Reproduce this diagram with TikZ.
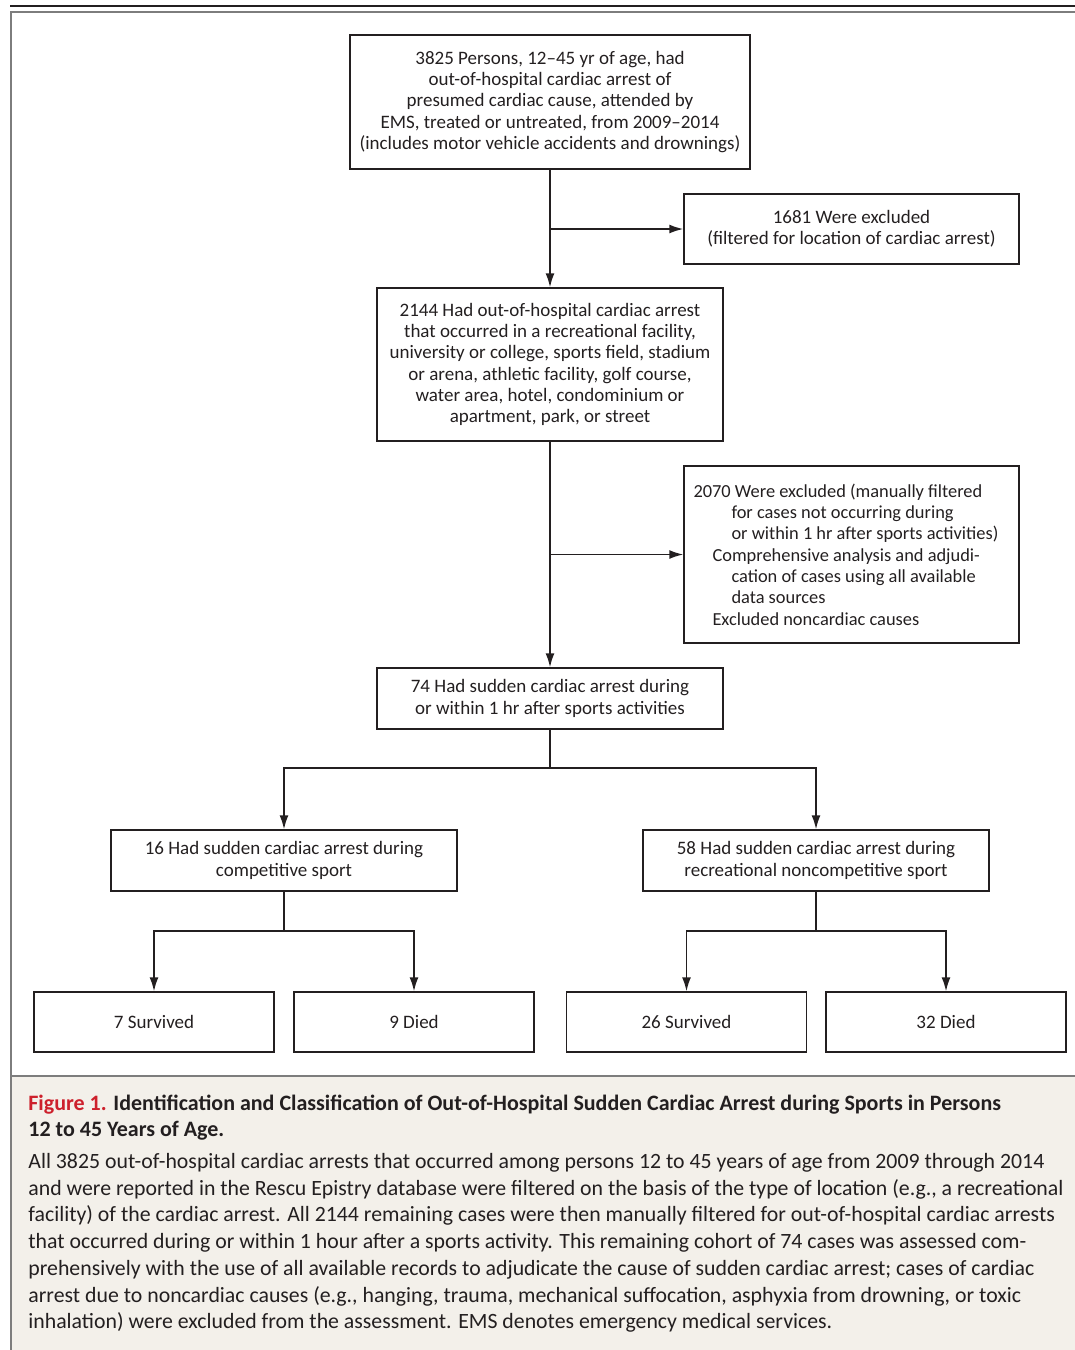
\documentclass[tikz,border=0pt]{standalone}
\usepackage{fontspec}
\setmainfont{Carlito}
\usetikzlibrary{arrows.meta, positioning}
\definecolor{nejmred}{RGB}{205, 32, 44}
\definecolor{capfill}{RGB}{243, 240, 234}
\definecolor{inkgray}{RGB}{35, 31, 32}
\definecolor{framegray}{RGB}{125, 125, 125}

\begin{document}
\begin{tikzpicture}[x=0.5pt, y=-0.5pt,
  box/.style={draw=inkgray, line width=0.75pt, align=center, text=inkgray,
    font=\fontsize{9.5}{10.65}\selectfont, inner sep=0pt},
  arr/.style={-{Latex[length=7pt, width=4.5pt]}, line width=0.75pt, draw=inkgray},
  link/.style={line width=0.75pt, draw=inkgray}]
\useasboundingbox (0,0) rectangle (1075,1350);

% Frame and caption panel
\fill[capfill] (12,1077) rectangle (1075,1350);
\draw[line width=1pt, inkgray] (10,6) -- (1075,6);
\draw[line width=1pt, framegray] (1080,12) -- (11,12) -- (11,1355);
\draw[line width=1pt, framegray] (11,1076) -- (1080,1076);

% Flow chart
\node[box, minimum width=200pt, minimum height=67pt] (total) at (550,102) {%
3825 Persons, 12--45 yr of age, had\\
out-of-hospital cardiac arrest of\\
presumed cardiac cause, attended by\\
EMS, treated or untreated, from 2009--2014\\
(includes motor vehicle accidents and drownings)};

\node[box, minimum width=167.5pt, minimum height=35pt] (excl1) at (851.5,229) {%
1681 Were excluded\\
(filtered for location of cardiac arrest)};

\node[box, minimum width=173pt, minimum height=76.5pt] (location) at (550,364.5) {%
2144 Had out-of-hospital cardiac arrest\\
that occurred in a recreational facility,\\
university or college, sports field, stadium\\
or arena, athletic facility, golf course,\\
water area, hotel, condominium or\\
apartment, park, or street};

\node[box, minimum width=167.5pt, minimum height=88.5pt, align=flush left,
      text width=158pt, font=\fontsize{9.2}{10.65}\selectfont] (excl2) at (851.5,554.5) {%
2070 Were excluded (manually filtered\\
\hspace*{19pt}for cases not occurring during\\
\hspace*{19pt}or within 1 hr after sports activities)\\
\hspace*{9.5pt}Comprehensive analysis and adjudi-\\
\hspace*{19pt}cation of cases using all available\\
\hspace*{19pt}data sources\\
\hspace*{9.5pt}Excluded noncardiac causes};

\node[box, minimum width=173pt, minimum height=30.5pt] (sports) at (550,698.5) {%
74 Had sudden cardiac arrest during\\
or within 1 hr after sports activities};

\node[box, minimum width=173pt, minimum height=30.5pt] (comp) at (284,860.5) {%
16 Had sudden cardiac arrest during\\
competitive sport};
\node[box, minimum width=173pt, minimum height=30.5pt] (recr) at (816,860.5) {%
58 Had sudden cardiac arrest during\\
recreational noncompetitive sport};

\node[box, minimum width=120pt, minimum height=30pt] (compsurv) at (154,1022) {7 Survived};
\node[box, minimum width=120pt, minimum height=30pt] (compdied) at (414,1022) {9 Died};
\node[box, minimum width=120pt, minimum height=30pt] (recrsurv) at (686.5,1022) {26 Survived};
\node[box, minimum width=120pt, minimum height=30pt] (recrdied) at (946,1022) {32 Died};

\coordinate (split1) at (550,768);
\coordinate (split2) at (284,931);
\coordinate (split3) at (816,931);

\draw[arr] (total) -- (location);
\draw[arr] (total.south |- excl1.west) -- (excl1.west);
\draw[arr] (location) -- (sports);
\draw[arr] (location.south |- excl2.west) -- (excl2.west);
\draw[link] (sports) -- (split1);
\draw[arr] (split1) -| (comp);
\draw[arr] (split1) -| (recr);
\draw[link] (comp) -- (split2);
\draw[arr] (split2) -| (compsurv);
\draw[arr] (split2) -| (compdied);
\draw[link] (recr) -- (split3);
\draw[arr] (split3) -| (recrsurv);
\draw[arr] (split3) -| (recrdied);

% Caption
\node[anchor=north west, inner sep=0pt, align=left, text=inkgray,
      font=\fontsize{11}{13}\selectfont\bfseries] (captitle) at (28,1095) {%
\textcolor{nejmred}{Figure 1.} Identification and Classification of Out-of-Hospital Sudden Cardiac Arrest during Sports in Persons\\
12 to 45 Years of Age.};
\node[anchor=north west, inner sep=0pt, align=left, text=inkgray,
      font=\fontsize{10.9}{13.35}\selectfont] (captext) at (28,1153) {%
All 3825 out-of-hospital cardiac arrests that occurred among persons 12 to 45 years of age from 2009 through 2014\\
and were reported in the Rescu Epistry database were filtered on the basis of the type of location (e.g., a recreational\\
facility) of the cardiac arrest. All 2144 remaining cases were then manually filtered for out-of-hospital cardiac arrests\\
that occurred during or within 1 hour after a sports activity. This remaining cohort of 74 cases was assessed com-\\
prehensively with the use of all available records to adjudicate the cause of sudden cardiac arrest; cases of cardiac\\
arrest due to noncardiac causes (e.g., hanging, trauma, mechanical suffocation, asphyxia from drowning, or toxic\\
inhalation) were excluded from the assessment. EMS denotes emergency medical services.};

\end{tikzpicture}
\end{document}
